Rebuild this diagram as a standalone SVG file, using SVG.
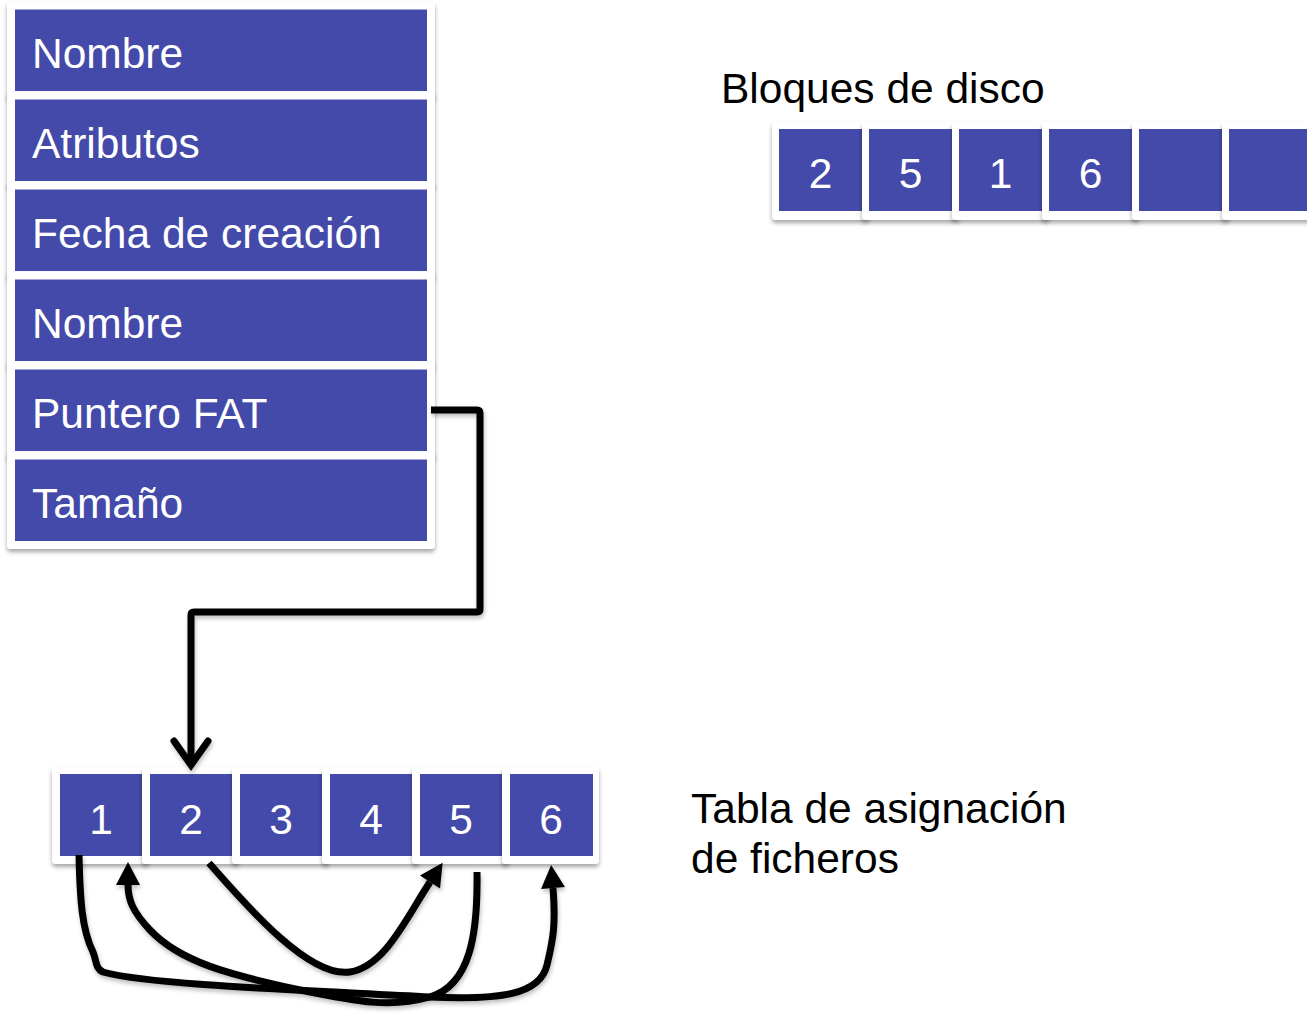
<svg xmlns="http://www.w3.org/2000/svg" width="1307" height="1013" viewBox="0 0 1307 1013">
<style>
.frame{fill:#ffffff;filter:url(#sh)}
.cell{fill:#444AA9}
.lbl{font-family:"Liberation Sans",Arial,sans-serif;font-size:42.5px;fill:#ffffff}
.num{font-family:"Liberation Sans",Arial,sans-serif;font-size:42.5px;fill:#ffffff;text-anchor:middle}
.cap{font-family:"Liberation Sans",Arial,sans-serif;font-size:42.5px;fill:#000000}
.conn{fill:none;stroke:#000000;stroke-width:7;stroke-linejoin:round;stroke-linecap:butt}
</style>
<defs>
<filter id="sh" x="-10%" y="-10%" width="120%" height="130%">
<feDropShadow dx="0" dy="3" stdDeviation="2" flood-color="#000000" flood-opacity="0.35"/>
</filter>
<filter id="lsh" x="-10%" y="-10%" width="120%" height="120%">
<feDropShadow dx="1" dy="3" stdDeviation="2" flood-color="#000000" flood-opacity="0.25"/>
</filter>
<marker id="tri" markerUnits="userSpaceOnUse" viewBox="-2 -13 26 26" refX="0" refY="0" markerWidth="26" markerHeight="26" orient="auto">
<path d="M23,0 L0,-12 L0,12 Z" fill="#000000"/>
</marker>
</defs>
<rect width="1307" height="1013" fill="#ffffff"/>

<g id="record">
<g id="r-nombre1"><rect class="frame" x="7" y="2" width="428" height="97" rx="4"/><rect class="cell" x="15" y="9.5" width="412" height="81.5"/><text class="lbl" x="32" y="68">Nombre</text></g>
<g id="r-atributos"><rect class="frame" x="7" y="92" width="428" height="97" rx="4"/><rect class="cell" x="15" y="99.5" width="412" height="81.5"/><text class="lbl" x="32" y="158">Atributos</text></g>
<g id="r-fecha"><rect class="frame" x="7" y="182" width="428" height="97" rx="4"/><rect class="cell" x="15" y="189.5" width="412" height="81.5"/><text class="lbl" x="32" y="248">Fecha de creación</text></g>
<g id="r-nombre2"><rect class="frame" x="7" y="272" width="428" height="97" rx="4"/><rect class="cell" x="15" y="279.5" width="412" height="81.5"/><text class="lbl" x="32" y="338">Nombre</text></g>
<g id="r-puntero"><rect class="frame" x="7" y="362" width="428" height="97" rx="4"/><rect class="cell" x="15" y="369.5" width="412" height="81.5"/><text class="lbl" x="32" y="428">Puntero FAT</text></g>
<g id="r-tamano"><rect class="frame" x="7" y="452" width="428" height="97" rx="4"/><rect class="cell" x="15" y="459.5" width="412" height="81.5"/><text class="lbl" x="32" y="518">Tamaño</text></g>
</g>

<g id="disk">
<text class="cap" x="721" y="103">Bloques de disco</text>
<g id="d1"><rect class="frame" x="772" y="122" width="97" height="98" rx="4"/><rect class="cell" x="779" y="129" width="83" height="82"/><text class="num" x="820.5" y="188">2</text></g>
<g id="d2"><rect class="frame" x="862" y="122" width="97" height="98" rx="4"/><rect class="cell" x="869" y="129" width="83" height="82"/><text class="num" x="910.5" y="188">5</text></g>
<g id="d3"><rect class="frame" x="952" y="122" width="97" height="98" rx="4"/><rect class="cell" x="959" y="129" width="83" height="82"/><text class="num" x="1000.5" y="188">1</text></g>
<g id="d4"><rect class="frame" x="1042" y="122" width="97" height="98" rx="4"/><rect class="cell" x="1049" y="129" width="83" height="82"/><text class="num" x="1090.5" y="188">6</text></g>
<g id="d5"><rect class="frame" x="1132" y="122" width="97" height="98" rx="4"/><rect class="cell" x="1139" y="129" width="83" height="82"/></g>
<g id="d6"><rect class="frame" x="1222" y="122" width="97" height="98" rx="4"/><rect class="cell" x="1229" y="129" width="83" height="82"/></g>
</g>

<g id="fat">
<text class="cap" x="691" y="823">Tabla de asignación</text>
<text class="cap" x="691" y="873">de ficheros</text>
<g id="f1"><rect class="frame" x="52" y="767" width="97" height="97" rx="4"/><rect class="cell" x="60" y="774" width="83" height="82"/><text class="num" x="101" y="834">1</text></g>
<g id="f2"><rect class="frame" x="142" y="767" width="97" height="97" rx="4"/><rect class="cell" x="150" y="774" width="83" height="82"/><text class="num" x="191" y="834">2</text></g>
<g id="f3"><rect class="frame" x="232" y="767" width="97" height="97" rx="4"/><rect class="cell" x="240" y="774" width="83" height="82"/><text class="num" x="281" y="834">3</text></g>
<g id="f4"><rect class="frame" x="322" y="767" width="97" height="97" rx="4"/><rect class="cell" x="330" y="774" width="83" height="82"/><text class="num" x="371" y="834">4</text></g>
<g id="f5"><rect class="frame" x="412" y="767" width="97" height="97" rx="4"/><rect class="cell" x="420" y="774" width="83" height="82"/><text class="num" x="461" y="834">5</text></g>
<g id="f6"><rect class="frame" x="502" y="767" width="97" height="97" rx="4"/><rect class="cell" x="510" y="774" width="83" height="82"/><text class="num" x="551" y="834">6</text></g>
</g>

<g id="connectors" filter="url(#lsh)">
<path class="conn" d="M431,410 L477,410 Q480,410 480,413 L480,609 Q480,612 477,612 L194,612 Q191,612 191,615 L191,764"/>
<path d="M174,741 L191,765 L208,741" fill="none" stroke="#000000" stroke-width="7" stroke-linecap="round" stroke-linejoin="miter"/>
<path class="conn" d="M209,863 C250,910 310,978 350,972 C385,966 405,920 430,882" marker-end="url(#tri)"/>
<path class="conn" d="M79,855 C80,900 82,930 93,952 C97,962 95,968 103,972 C150,985 300,990 430,997 C500,1000 540,995 547,965 C553,940 556,925 553,888" marker-end="url(#tri)"/>
<path class="conn" d="M477,872 C478,935 470,985 430,997 C390,1008 360,1002 300,990 C230,975 180,962 150,930 C133,912 128,900 128,885" marker-end="url(#tri)"/>
</g>
</svg>
